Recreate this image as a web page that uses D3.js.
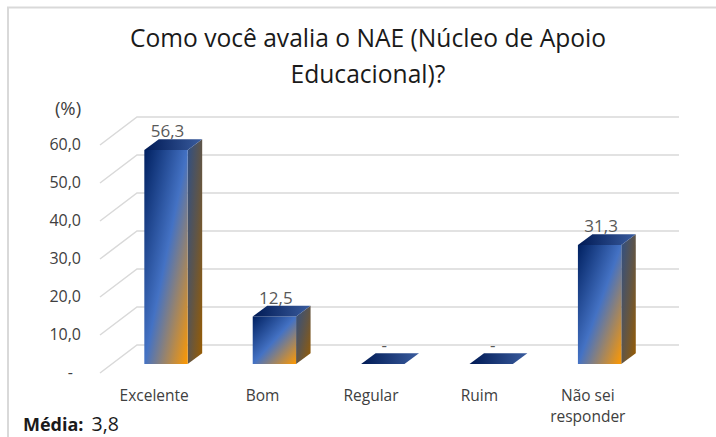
<!DOCTYPE html>
<html>
<head>
<meta charset="utf-8">
<script src="https://cdn.jsdelivr.net/npm/d3@7"></script>
<style>
  html, body { margin: 0; padding: 0; background: #fff; }
  svg { display: block; }
  text { font-family: "Open Sans", sans-serif; }
</style>
</head>
<body>
<div id="chart"></div>
<script>
const categories = [['Excelente'], ['Bom'], ['Regular'], ['Ruim'], ['Não sei', 'responder']];
const values = [56.3, 12.5, 0, 0, 31.3];
const yTicks = [0, 10, 20, 30, 40, 50, 60];
const titleLines = ['Como você avalia o NAE (Núcleo de Apoio', 'Educacional)?'];

const width = 716, height = 437;
const fmt = (v) => (v === 0 ? '-' : v.toFixed(1).replace('.', ','));

const svg = d3.select('#chart').append('svg').attr('width', width).attr('height', height);
const defs = svg.append('defs');

function gradient(id, x2, y2, stops) {
  const g = defs.append('linearGradient').attr('id', id)
    .attr('x1', 0).attr('y1', 0).attr('x2', x2).attr('y2', y2);
  stops.forEach((s) => g.append('stop').attr('offset', s[0]).attr('stop-color', s[1]));
}
gradient('front', 1, 1, [[0, '#002060'], [0.5, '#4472c4'], [1, '#ff9900']]);
gradient('side', 1, 1, [[0, '#2f4f85'], [0.5, '#5f5548'], [1, '#995c00']]);
gradient('top', 1, 0, [[0, '#001a55'], [1, '#3a5c9e']]);

// outer frame of the pasted picture
svg.append('path').attr('d', 'M716,7.5H8V437').attr('stroke', '#d9d9d9').attr('stroke-width', 2).attr('fill', 'none');

// 3D offsets
const wall = { dx: 37, dy: -28 };
const barStart = { dx: 11.8, dy: -9 };
const barDepth = { dx: 14.5, dy: -10.7 };

const x = d3.scaleBand().domain(d3.range(categories.length)).range([100, 642])
  .paddingInner(0.6).paddingOuter(0.3);
const y = d3.scaleLinear().domain([0, 60]).range([373, 145]);

// gridlines
const grid = svg.append('g').attr('fill', 'none').attr('stroke', '#d9d9d9').attr('stroke-width', 1.5);
yTicks.forEach((t) => {
  grid.append('path').attr('d', d3.line()([
    [100, y(t)],
    [100 + wall.dx, y(t) + wall.dy],
    [642 + wall.dx, y(t) + wall.dy]
  ]));
});

// y axis labels
const tickG = svg.append('g').attr('font-size', 16).attr('fill', '#404040').attr('text-anchor', 'end');
yTicks.forEach((t) => {
  tickG.append('text').attr('x', t === 0 ? 73 : 81).attr('y', y(t) + 5).text(t === 0 ? '-' : fmt(t));
});
svg.append('text').attr('x', 68).attr('y', 115).attr('font-size', 18.5).attr('fill', '#404040')
  .attr('text-anchor', 'middle').text('(%)');

// bars
const bars = svg.append('g');
values.forEach((v, i) => {
  const x0 = x(i) + barStart.dx, x1 = x0 + x.bandwidth();
  const yb = y(0) + barStart.dy, yt = y(v) + barStart.dy;
  const d = barDepth;
  const poly = (pts, fill) => bars.append('polygon')
    .attr('points', pts.map((p) => p.join(',')).join(' ')).attr('fill', fill);
  if (v > 0) {
    poly([[x1, yt], [x1 + d.dx, yt + d.dy], [x1 + d.dx, yb + d.dy], [x1, yb]], 'url(#side)');
    poly([[x0, yt], [x1, yt], [x1, yb], [x0, yb]], 'url(#front)');
  }
  poly([[x0, yt], [x0 + d.dx, yt + d.dy], [x1 + d.dx, yt + d.dy], [x1, yt]], 'url(#top)');
  svg.append('text').attr('x', (x0 + x1) / 2 + 1.5).attr('y', yt + d.dy - 2)
    .attr('text-anchor', 'middle').attr('font-size', 17).attr('fill', '#595959').text(fmt(v));
});

// category labels
categories.forEach((lines, i) => {
  const t = svg.append('text').attr('text-anchor', 'middle').attr('font-size', 15.5).attr('fill', '#404040');
  lines.forEach((l, j) => {
    t.append('tspan').attr('x', x(i) + x.bandwidth() / 2).attr('y', 400.5 + j * 21.5).text(l);
  });
});

// title
const title = svg.append('text').attr('text-anchor', 'middle').attr('font-size', 24.6).attr('fill', '#1a1a1a');
titleLines.forEach((l, j) => {
  title.append('tspan').attr('x', 368).attr('y', 47 + j * 36).text(l);
});

// footer
const foot = svg.append('text').attr('x', 23).attr('y', 431).attr('font-size', 18).attr('fill', '#1a1a1a');
foot.append('tspan').attr('font-weight', 'bold').text('Média:');
foot.append('tspan').attr('font-size', 19.5).attr('dx', 3).text(' 3,8');
</script>
</body>
</html>
